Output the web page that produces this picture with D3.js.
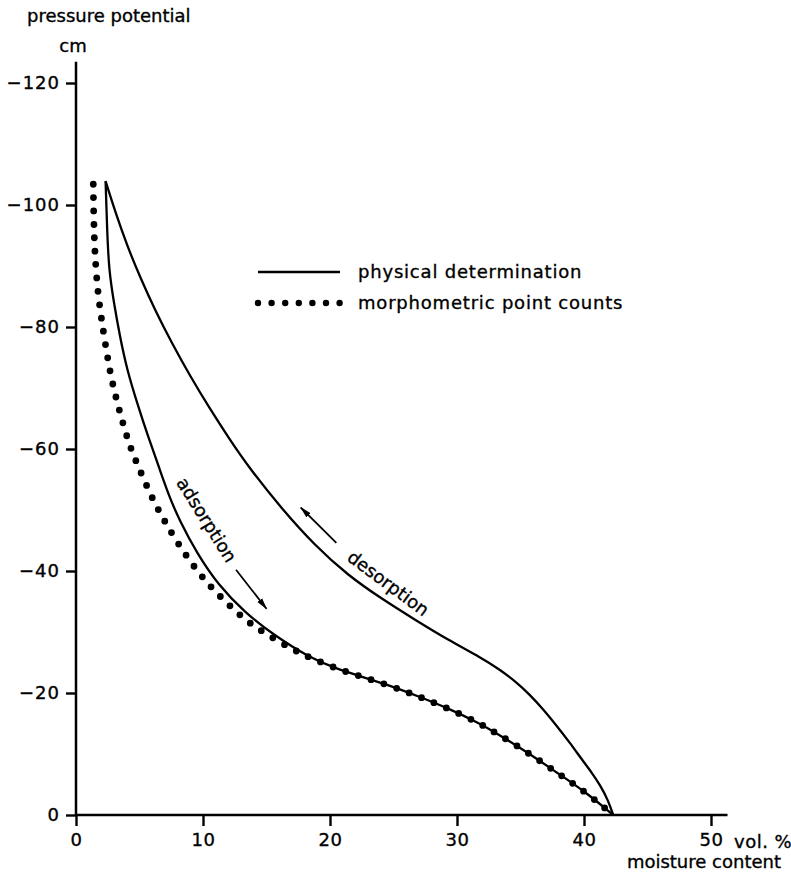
<!DOCTYPE html>
<html>
<head>
<meta charset="utf-8">
<script src="https://cdn.jsdelivr.net/npm/d3@7"></script>
<style>
  body { margin: 0; background: #fff; }
  text { font-family: "DejaVu Sans", sans-serif; fill: #000; stroke: #000; stroke-width: 0.35px; }
</style>
</head>
<body>
<script>
// tick values
const xTicks = [0, 10, 20, 30, 40, 50];
const yTicks = [0, -20, -40, -60, -80, -100, -120];

// [moisture content vol.%, pressure potential cm]
const desorption = [
  [2.33, -103.9], [3.1, -98.8], [4.03, -93.3], [5.08, -88.0], [6.26, -82.6],
  [7.56, -77.3], [9.0, -71.9], [10.6, -66.4], [12.0, -61.9], [13.6, -57.0],
  [16.2, -50.2], [18.8, -44.2], [21.4, -39.3], [24.1, -35.4], [26.7, -32.0],
  [29.3, -28.7], [31.9, -25.8], [33.4, -23.8], [34.6, -21.9], [35.7, -19.8],
  [36.8, -17.3], [37.9, -14.5], [38.9, -11.8], [39.8, -9.2], [40.6, -7.0],
  [41.3, -4.8], [41.9, -2.4], [42.3, 0]
];
const adsorption = [
  [2.33, -103.9], [2.45, -96.0], [2.59, -89.3], [2.99, -83.9], [3.46, -78.4],
  [4.03, -72.9], [4.82, -67.5], [5.68, -62.0], [6.52, -57.1], [7.3, -52.4],
  [8.17, -48.2], [9.5, -43.0], [11.2, -37.7], [13.3, -33.2], [15.5, -29.6],
  [18.3, -25.9], [20.5, -24.0], [22.0, -23.0], [24.6, -21.3], [26.9, -19.5],
  [29.3, -17.5], [31.7, -15.1], [33.2, -13.3], [35.6, -10.2], [37.9, -6.9],
  [40.1, -3.8], [42.3, 0]
];
const morphometric = [
  [1.36, -103.4], [1.40, -97.5], [1.47, -92.6], [1.70, -85.6], [2.18, -78.9],
  [2.67, -72.6], [3.17, -68.2], [3.67, -64.4], [4.24, -60.4], [4.95, -56.9],
  [5.95, -52.1], [6.91, -48.4], [7.88, -45.0], [9.14, -41.1], [10.45, -37.7],
  [11.9, -34.7], [13.4, -31.8], [15.1, -29.5], [17.0, -27.2], [18.3, -25.9],
  [20.5, -24.0], [22.0, -23.0], [24.6, -21.3], [26.9, -19.5], [29.3, -17.5],
  [31.7, -15.1], [33.2, -13.3], [35.6, -10.2], [37.9, -6.9], [40.1, -3.8],
  [42.3, 0]
];

const legendLabels = ["physical determination", "morphometric point counts"];

const width = 791, height = 879;

const svg = d3.select("body").append("svg")
  .attr("width", width)
  .attr("height", height);

const x = d3.scaleLinear().domain([0, 50]).range([76, 711]);
const y = d3.scaleLinear().domain([0, -120]).range([815, 83]);

// arrow head
svg.append("defs").append("marker")
  .attr("id", "head")
  .attr("markerUnits", "userSpaceOnUse")
  .attr("viewBox", "0 0 12 8")
  .attr("refX", 11).attr("refY", 4)
  .attr("markerWidth", 12).attr("markerHeight", 8)
  .attr("orient", "auto")
  .append("path")
  .attr("d", "M0,1 L12,4 L0,7 Z")
  .attr("fill", "#000");

// axes
const xAxis = d3.axisBottom(x).tickValues(xTicks).tickSize(11).tickPadding(7)
  .tickFormat(d3.format("d"));
const gx = svg.append("g")
  .attr("transform", `translate(0,${y(0)})`)
  .call(xAxis);
gx.select(".domain").remove();
gx.selectAll(".tick line").attr("stroke", "#000").attr("stroke-width", 2.4);
gx.selectAll(".tick text").style("font-size", "18px").style("letter-spacing", "0.5px");

const yAxis = d3.axisLeft(y).tickValues(yTicks).tickSize(10).tickPadding(6)
  .tickFormat(d => d === 0 ? "0" : "\u2212" + Math.abs(d));
const gy = svg.append("g")
  .attr("transform", `translate(${x(0)},0)`)
  .call(yAxis);
gy.select(".domain").remove();
gy.selectAll(".tick line").attr("stroke", "#000").attr("stroke-width", 2.4);
gy.selectAll(".tick text").style("font-size", "18px").style("letter-spacing", "1px");

// axis lines, extended past the last tick
svg.append("line")
  .attr("x1", x(0)).attr("x2", x(51.3))
  .attr("y1", y(0)).attr("y2", y(0))
  .attr("stroke", "#000").attr("stroke-width", 2.5);
svg.append("line")
  .attr("x1", x(0)).attr("x2", x(0))
  .attr("y1", y(0) + 1).attr("y2", y(-123.5))
  .attr("stroke", "#000").attr("stroke-width", 2.5);

// axis titles
svg.append("text")
  .attr("x", 27).attr("y", 22)
  .style("font-size", "18px")
  .text("pressure potential");
svg.append("text")
  .attr("x", x(0) - 3).attr("y", 52)
  .attr("text-anchor", "middle")
  .style("font-size", "18px")
  .text("cm");
svg.append("text")
  .attr("x", x(50) + 23).attr("y", y(0) + 33)
  .style("font-size", "18px")
  .style("letter-spacing", "0.5px")
  .text("vol. %");
svg.append("text")
  .attr("x", 781).attr("y", y(0) + 53)
  .attr("text-anchor", "end")
  .style("font-size", "18px")
  .text("moisture content");

// curves
const line = d3.line()
  .x(d => x(d[0]))
  .y(d => y(d[1]))
  .curve(d3.curveBasis);

svg.append("path")
  .datum(desorption)
  .attr("d", line)
  .attr("fill", "none")
  .attr("stroke", "#000")
  .attr("stroke-width", 2.3);

svg.append("path")
  .datum(adsorption)
  .attr("d", line)
  .attr("fill", "none")
  .attr("stroke", "#000")
  .attr("stroke-width", 2.3);

svg.append("path")
  .datum(morphometric)
  .attr("d", line)
  .attr("fill", "none")
  .attr("stroke", "#000")
  .attr("stroke-width", 6.8)
  .attr("stroke-linecap", "round")
  .attr("stroke-dasharray", "0,13.4");

// curve labels and arrows
svg.append("text")
  .attr("transform", `translate(${x(10.3)},${y(-48.4)}) rotate(58)`)
  .attr("text-anchor", "middle")
  .attr("dominant-baseline", "central")
  .style("font-size", "18px")
  .text("adsorption");
svg.append("line")
  .attr("x1", x(12.6)).attr("y1", y(-40.2))
  .attr("x2", x(15.0)).attr("y2", y(-33.8))
  .attr("stroke", "#000").attr("stroke-width", 1.8)
  .attr("marker-end", "url(#head)");

svg.append("text")
  .attr("transform", `translate(${x(24.6)},${y(-38.0)}) rotate(36.5)`)
  .attr("text-anchor", "middle")
  .attr("dominant-baseline", "central")
  .style("font-size", "18px")
  .text("desorption");
svg.append("line")
  .attr("x1", x(20.5)).attr("y1", y(-44.6))
  .attr("x2", x(17.7)).attr("y2", y(-50.4))
  .attr("stroke", "#000").attr("stroke-width", 1.8)
  .attr("marker-end", "url(#head)");

// legend
const legend = svg.append("g").attr("transform", "translate(258,272)");
legend.append("line")
  .attr("x1", 0).attr("x2", 82).attr("y1", 0).attr("y2", 0)
  .attr("stroke", "#000").attr("stroke-width", 2.3);
legend.append("line")
  .attr("x1", 0).attr("x2", 82).attr("y1", 31).attr("y2", 31)
  .attr("stroke", "#000").attr("stroke-width", 6.4)
  .attr("stroke-linecap", "round")
  .attr("stroke-dasharray", "0,13.6");
legend.selectAll(".lab")
  .data(legendLabels)
  .enter()
  .append("text")
  .attr("x", 100)
  .attr("y", (d, i) => i * 31 + 6)
  .style("font-size", "18px")
  .style("letter-spacing", "0.8px")
  .text(d => d);
</script>
</body>
</html>
